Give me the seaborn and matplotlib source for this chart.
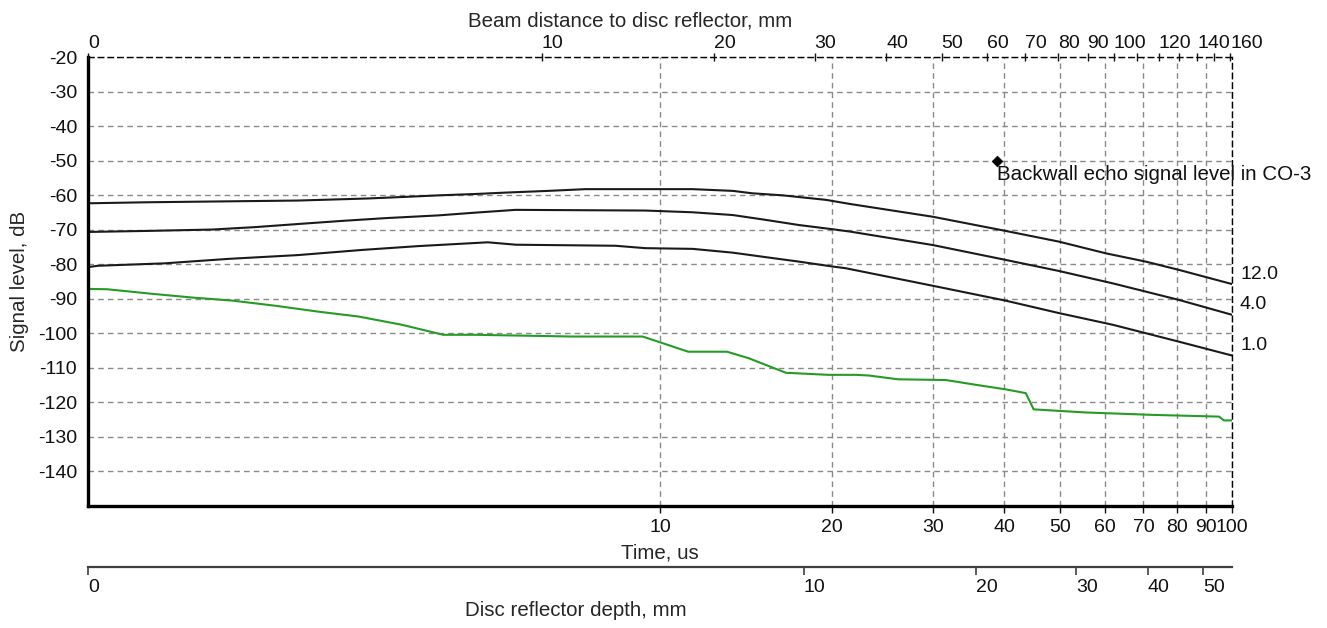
import numpy as np
import pandas as pd
import matplotlib
matplotlib.use("Agg")
import matplotlib.pyplot as plt
from matplotlib.ticker import FixedLocator, NullLocator, MultipleLocator
import seaborn as sns

# ---------------- data ----------------
time_12 = [1.0, 1.27, 2.33, 3.09, 3.63, 4.10, 4.76, 5.37, 6.38, 7.41, 11.4, 13.4,
           14.5, 16.4, 19.5, 21.5, 30.0, 40.2, 49.8, 60.2, 70.7, 80.8, 100.0]
level_12 = [-62.3, -62.0, -61.5, -60.9, -60.4, -60.0, -59.6, -59.2, -58.7, -58.2,
            -58.2, -58.7, -59.4, -60.0, -61.3, -62.5, -66.2, -70.3, -73.4, -76.8,
            -79.2, -81.6, -85.7]

time_4 = [1.0, 1.27, 1.65, 1.96, 2.33, 2.78, 3.31, 4.10, 4.76, 5.59, 9.43, 11.4,
          13.4, 15.3, 17.5, 20.0, 21.5, 30.0, 40.2, 49.8, 61.9, 80.8, 100.0]
level_4 = [-70.6, -70.3, -69.9, -69.2, -68.3, -67.4, -66.6, -65.8, -65.0, -64.2,
           -64.4, -64.9, -65.7, -67.1, -68.6, -69.8, -70.5, -74.4, -78.7, -81.9,
           -85.5, -90.3, -94.6]

time_1 = [1.0, 1.04, 1.36, 1.76, 2.33, 3.02, 3.78, 5.0, 5.6, 8.36, 9.43, 11.4,
          13.4, 15.3, 17.5, 20.0, 21.1, 30.0, 40.2, 49.8, 61.9, 80.8, 100.0]
level_1 = [-80.8, -80.4, -79.7, -78.4, -77.3, -75.8, -74.7, -73.6, -74.3, -74.6,
           -75.3, -75.5, -76.6, -77.9, -79.2, -80.6, -81.1, -86.2, -90.5, -94.1,
           -97.5, -102.4, -106.4]

time_noise = [1.0, 1.08, 1.29, 1.52, 1.79, 2.13, 2.53, 2.97, 3.54, 4.18, 4.76,
              7.03, 9.32, 10.1, 11.2, 13.1, 14.3, 16.6, 19.7, 22.0, 23.2, 26.1,
              31.6, 35.7, 40.2, 43.6, 45.0, 55.5, 72.7, 94.9, 96.8, 100.0]
level_noise = [-87.1, -87.2, -88.5, -89.6, -90.5, -92.0, -93.7, -95.1, -97.5,
               -100.4, -100.4, -100.9, -100.9, -102.8, -105.3, -105.3, -107.2,
               -111.4, -112.0, -112.0, -112.2, -113.3, -113.5, -114.9, -116.2,
               -117.3, -122.0, -122.9, -123.6, -124.1, -125.2, -125.2]

curve_names = ["12.0", "4.0", "1.0"]
backwall_time = [38.8]
backwall_level = [-50.0]
backwall_text = "Backwall echo signal level in CO-3"

time_ticks = [10, 20, 30, 40, 50, 60, 70, 80, 90, 100]
beam_ticks_mm = [10, 20, 30, 40, 50, 60, 70, 80, 90, 100, 110, 120, 130, 140, 150, 160]
beam_tick_labels = ["10", "20", "30", "40", "50", "60", "70", "80", "90", "100",
                    "", "120", "", "140", "", "160"]
depth_ticks_mm = [10, 20, 30, 40, 50]
depth_tick_labels = ["10", "20", "30", "40", "50"]

shear_velocity = 3.22      # mm/us
beam_angle_deg = 69.6      # degrees


def beam_to_time(d):
    return 2.0 * np.asarray(d, dtype=float) / shear_velocity


def depth_to_time(h):
    return beam_to_time(np.asarray(h, dtype=float) / np.cos(np.radians(beam_angle_deg)))


# ---------------- styling ----------------
sns.set_style("white")
plt.rcParams['font.family'] = ['Liberation Sans', 'DejaVu Sans']
plt.rcParams['axes.unicode_minus'] = False
plt.rcParams['text.color'] = '#111111'
plt.rcParams['xtick.color'] = '#111111'
plt.rcParams['ytick.color'] = '#111111'

W, H = 1327, 628
fig = plt.figure(figsize=(W / 100, H / 100), dpi=100)
fig.patch.set_facecolor('white')
x0, x1, y0, y1 = 88, 1232, 57.3, 506
ax = fig.add_axes([x0 / W, 1 - y1 / H, (x1 - x0) / W, (y1 - y0) / H])
axh = y1 - y0
axw = x1 - x0

df = pd.concat([
    pd.DataFrame({"time": time_12, "level": level_12, "size": curve_names[0]}),
    pd.DataFrame({"time": time_4, "level": level_4, "size": curve_names[1]}),
    pd.DataFrame({"time": time_1, "level": level_1, "size": curve_names[2]}),
])
df_noise = pd.DataFrame({"time": time_noise, "level": level_noise})

ax.set_xscale('log')
sns.lineplot(data=df, x="time", y="level", hue="size", units="size",
             palette=["#1a1a1a"] * 3, estimator=None, sort=False,
             legend=False, lw=1.5, ax=ax)
sns.lineplot(data=df_noise, x="time", y="level", color="#259b25",
             estimator=None, sort=False, legend=False, lw=1.5, ax=ax)
sns.scatterplot(x=backwall_time, y=backwall_level, marker="D", s=30,
                color="black", edgecolor="black", ax=ax, zorder=5)
ax.annotate(backwall_text, xy=(backwall_time[0], backwall_level[0]),
            xytext=(0, -3), textcoords='offset points', ha='left', va='top',
            fontsize=14.8, annotation_clip=False)

# curve end labels
for name, t, v in [(curve_names[0], time_12, level_12),
                   (curve_names[1], time_4, level_4),
                   (curve_names[2], time_1, level_1)]:
    ax.annotate(name, xy=(t[-1], v[-1]), xytext=(8, 10), textcoords='offset pixels',
                ha='left', va='center', fontsize=14, annotation_clip=False)

ax.set_xlim(1, 100)
ax.set_ylim(-150, -20)

ax.xaxis.set_major_locator(FixedLocator(time_ticks))
ax.xaxis.set_minor_locator(NullLocator())
ax.set_xticklabels([str(t) for t in time_ticks])
ax.yaxis.set_major_locator(FixedLocator(np.arange(-140, -19, 10)))
ax.yaxis.set_minor_locator(MultipleLocator(2))

ax.set_axisbelow(True)
ax.grid(True, which='major', linestyle=(0, (4, 3)), color='#8a8a8a', lw=1.0)

ax.tick_params(axis='x', which='major', direction='out', length=7 * 0.72,
               width=1, pad=4.5, labelsize=14)
ax.tick_params(axis='y', which='major', direction='out', length=6 * 0.72,
               width=1, pad=3.5, labelsize=14)
ax.tick_params(axis='y', which='minor', direction='out', length=3 * 0.72, width=0.8)

for s in ['left', 'bottom']:
    ax.spines[s].set_linewidth(2.4)
    ax.spines[s].set_color('black')
for s in ['top', 'right']:
    ax.spines[s].set_linewidth(1.0)
    ax.spines[s].set_color('black')
    ax.spines[s].set_linestyle((0, (4, 3)))

ax.set_xlabel("Time, us", fontsize=14.8)
ax.xaxis.set_label_coords(0.5, (y1 - 543.5) / axh)
ax.set_ylabel("Signal level, dB", fontsize=14.8)
ax.yaxis.set_label_coords((29 - x0) / axw, 0.5)

# ---------------- top axis: beam distance ----------------
ax2 = ax.twiny()
ax2.set_xscale('log')
ax2.set_xlim(1, 100)
ax2.xaxis.set_minor_locator(NullLocator())
ax2.set_xticks([1.0] + list(beam_to_time(beam_ticks_mm)))
ax2.set_xticklabels(["0"] + beam_tick_labels)
ax2.xaxis.set_minor_locator(NullLocator())
ax2.tick_params(axis='x', which='major', direction='inout', length=8 * 0.72,
                width=1, pad=1.0, labelsize=14)
for s in ax2.spines.values():
    s.set_visible(False)
ax2.set_xlabel("Beam distance to disc reflector, mm", fontsize=14.8)
ax2.xaxis.set_label_coords((630 - x0) / axw, (y1 - 26.5) / axh)

# ---------------- bottom axis: disc reflector depth ----------------
ax3 = ax.twiny()
ax3.set_xscale('log')
ax3.set_xlim(1, 100)
ax3.xaxis.tick_bottom()
ax3.xaxis.set_label_position('bottom')
ax3.set_xticks([1.0] + list(depth_to_time(depth_ticks_mm)))
ax3.set_xticklabels(["0"] + depth_tick_labels)
ax3.xaxis.set_minor_locator(NullLocator())
ax3.tick_params(axis='x', which='major', direction='out', length=8 * 0.72,
                width=1.2, pad=3.0, labelsize=14, color='#404040')
for name, s in ax3.spines.items():
    s.set_visible(name == 'bottom')
ax3.spines['bottom'].set_position(('outward', 61 * 0.72))
ax3.spines['bottom'].set_linewidth(1.6)
ax3.spines['bottom'].set_color('#404040')
ax3.set_xlabel("Disc reflector depth, mm", fontsize=14.8)
ax3.xaxis.set_label_coords((576 - x0) / axw, (y1 - 601) / axh)

plt.setp(ax2.get_xticklabels(), ha='left')
plt.setp(ax3.get_xticklabels(), ha='left')

fig.savefig("out.png", dpi=100, facecolor='white')
